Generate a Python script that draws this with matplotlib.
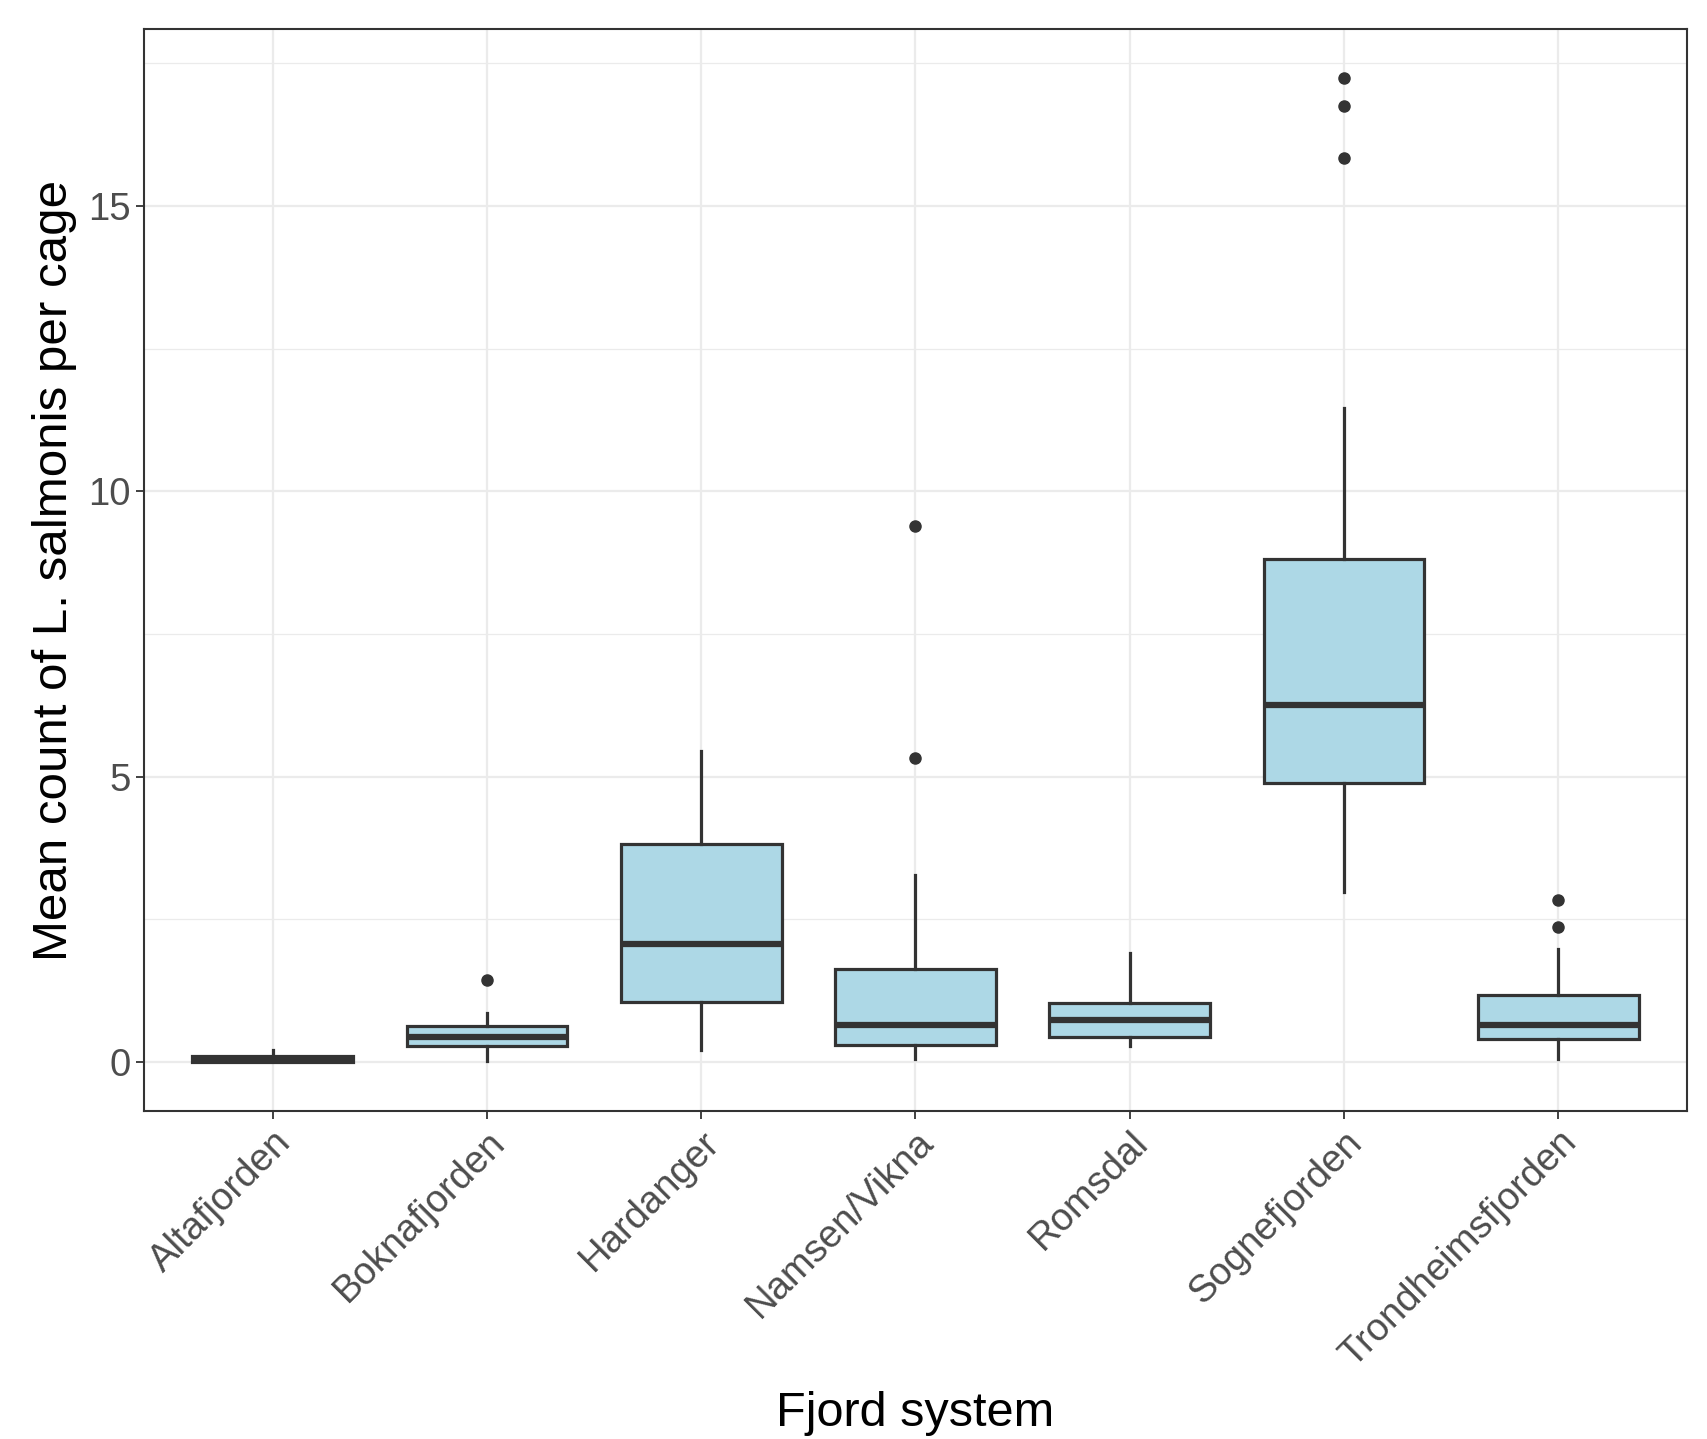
import matplotlib
matplotlib.use("Agg")
import matplotlib.pyplot as plt
from matplotlib.ticker import MultipleLocator

plt.rcParams['font.family'] = ['Liberation Sans', 'DejaVu Sans']

# box statistics
fjords = ['Altafjorden', 'Boknafjorden', 'Hardanger', 'Namsen/Vikna',
          'Romsdal', 'Sognefjorden', 'Trondheimsfjorden']
whislo = [0.0, 0.02, 0.21, 0.05, 0.27, 2.98, 0.05]
q1 = [0.0, 0.27, 1.05, 0.29, 0.44, 4.89, 0.40]
med = [0.03, 0.44, 2.07, 0.65, 0.74, 6.25, 0.65]
q3 = [0.10, 0.63, 3.82, 1.62, 1.03, 8.82, 1.18]
whishi = [0.20, 0.86, 5.44, 3.27, 1.90, 11.46, 1.98]
outliers = [[], [1.44], [], [5.32, 9.39], [], [15.84, 16.75, 17.24], [2.36, 2.83]]

stats = []
for i, name in enumerate(fjords):
    stats.append(dict(label=name, whislo=whislo[i], q1=q1[i], med=med[i],
                      q3=q3[i], whishi=whishi[i], fliers=outliers[i]))

fig = plt.figure(figsize=(17.08, 14.39), dpi=100)
ax = fig.add_axes([0.0843, 0.2279, 0.9034, 0.752])

dark = '#333333'
ax.bxp(stats, positions=range(1, 8), widths=0.75, patch_artist=True,
       showcaps=False,
       boxprops=dict(facecolor='#ADD8E6', edgecolor=dark, linewidth=2.3),
       medianprops=dict(color=dark, linewidth=4.5, solid_capstyle='butt'),
       whiskerprops=dict(color=dark, linewidth=2.3),
       flierprops=dict(marker='o', markerfacecolor=dark, markeredgecolor=dark,
                       markersize=8, linestyle='none'),
       zorder=3)

# ggplot-style expansion
lo, hi = 0.0, 17.24
pad = (hi - lo) * 0.05
ax.set_ylim(lo - pad, hi + pad)
ax.set_xlim(0.4, 7.6)

ax.yaxis.set_major_locator(MultipleLocator(5))
ax.yaxis.set_minor_locator(MultipleLocator(2.5))
ax.grid(True, which='major', color='#EBEBEB', linewidth=1.6, zorder=0)
ax.grid(True, which='minor', axis='y', color='#EBEBEB', linewidth=0.9, zorder=0)
ax.set_axisbelow(True)

ax.set_xticks(range(1, 8))
ax.set_xticklabels(fjords, rotation=45, ha='right', va='top',
                   rotation_mode='anchor')
ax.tick_params(axis='both', which='major', labelsize=27.5, labelcolor='#4D4D4D',
               color=dark, length=6, width=1.3)
ax.tick_params(axis='y', which='minor', length=0)

for s in ax.spines.values():
    s.set_color(dark)
    s.set_linewidth(1.5)

ax.set_xlabel('Fjord system', fontsize=35, labelpad=12)
ax.set_ylabel('Mean count of L. salmonis per cage', fontsize=35.5, labelpad=8)

fig.savefig('out.png', dpi=100)
